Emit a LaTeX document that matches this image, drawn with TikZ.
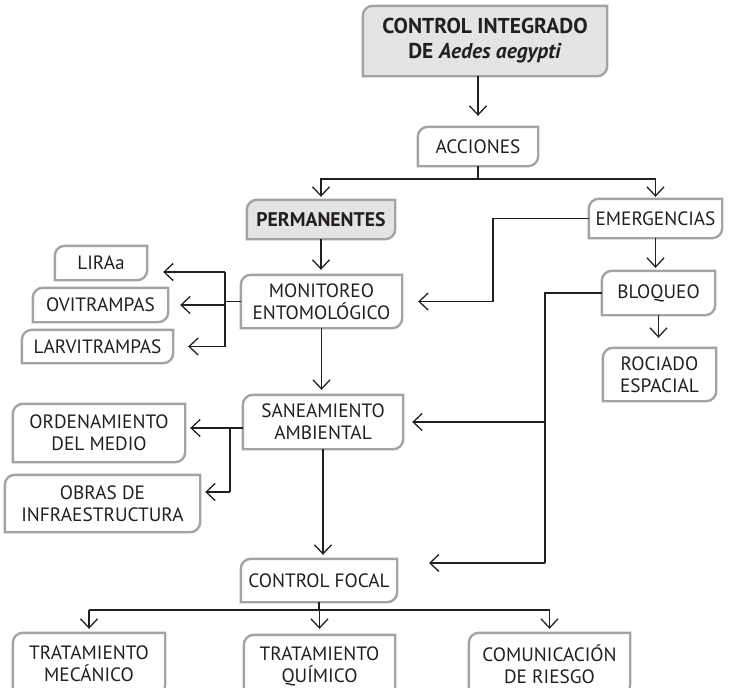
\documentclass[tikz,border=0pt]{standalone}
\usepackage{fontspec}
\setmainfont{PT Sans}
\usetikzlibrary{arrows.meta,positioning,calc,backgrounds}

\definecolor{framegray}{HTML}{A3A3A3}
\definecolor{headfill}{HTML}{E4E4E4}
\definecolor{inkgray}{HTML}{231F20}

\tikzset{
  box/.style={inner sep=0pt, align=center, text=inkgray,
    font=\fontsize{19.3}{22}\selectfont},
  headbox/.style={box, font=\fontsize{19.7}{22}\selectfont\bfseries},
  titlebox/.style={box, font=\fontsize{21.5}{25}\selectfont\bfseries},
  conn/.style={draw=inkgray, line width=1.3pt},
  arr/.style={conn, -{Straight Barb[length=9pt,width=17pt]}, shorten >=#1},
  arr/.default=5pt,
  leafline/.style={draw=framegray, line width=2.4pt, fill=#1},
  leafline/.default=white,
}

%% frame with rounded top-left and bottom-right corners
\newcommand\leafframe[2][white]{%
  \draw[leafline=#1] (#2.north east) -- ([xshift=10pt]#2.north west)
    arc[start angle=90, end angle=180, radius=10pt]
    -- (#2.south west) -- ([xshift=-10pt]#2.south east)
    arc[start angle=270, end angle=360, radius=10pt] -- cycle;}

\begin{document}
\begin{tikzpicture}[x=1pt, y=1pt]
  \useasboundingbox (0,0) rectangle (729,-688);

  %% Head and first level
  \node[titlebox, minimum width=244pt, minimum height=70pt] (top) at (485,-41)
    {CONTROL INTEGRADO\\DE \textit{Aedes aegypti}};
  \node[box, minimum width=120pt, minimum height=39pt] (acc) at (478,-146.5) {ACCIONES};
  \node[headbox, minimum width=148pt, minimum height=39pt] (perm) at (321,-219.5) {PERMANENTES};
  \node[box, minimum width=133pt, minimum height=39pt] (emer) at (655.5,-218.5) {EMERGENCIAS};

  %% Permanent actions
  \node[box, minimum width=161pt, minimum height=53pt] (mon) at (321.5,-301.5) {MONITOREO\\ENTOMOLÓGICO};
  \node[box, minimum width=92pt, minimum height=34pt] (lira) at (101,-263) {LIRAa};
  \node[box, minimum width=135pt, minimum height=34pt] (ovi) at (100.5,-305) {OVITRAMPAS};
  \node[box, minimum width=151pt, minimum height=33pt] (larv) at (97.5,-346.5) {LARVITRAMPAS};
  \node[box, minimum width=160pt, minimum height=54pt] (san) at (323,-422) {SANEAMIENTO\\AMBIENTAL};
  \node[box, minimum width=172pt, minimum height=58pt] (ord) at (99,-433) {ORDENAMIENTO\\DEL MEDIO};
  \node[box, minimum width=195pt, minimum height=57pt] (obras) at (102.5,-503.5) {OBRAS DE\\INFRAESTRUCTURA};
  \node[box, minimum width=156pt, minimum height=43pt] (cf) at (319,-580.5) {CONTROL FOCAL};
  \node[box, minimum width=152pt, minimum height=62pt] (mec) at (89,-664) {TRATAMIENTO\\MECÁNICO};
  \node[box, minimum width=151pt, minimum height=62pt] (qui) at (319.5,-666) {TRATAMIENTO\\QUÍMICO};
  \node[box, minimum width=161pt, minimum height=62pt] (com) at (549.5,-664) {COMUNICACIÓN\\DE RIESGO};

  %% Emergency actions
  \node[box, minimum width=113pt, minimum height=44pt] (bloq) at (658.5,-293) {BLOQUEO};
  \node[box, minimum width=113pt, minimum height=53pt] (roc) at (659.5,-374.5) {ROCIADO\\ESPACIAL};

  %% Frames
  \begin{scope}[on background layer]
    \leafframe[headfill]{top}
    \leafframe[headfill]{perm}
    \foreach \n in {acc,emer,mon,lira,ovi,larv,san,ord,obras,cf,mec,qui,com,bloq,roc}
      {\leafframe{\n}}
  \end{scope}

  %% Junction points
  \coordinate (hb) at (0,-179);
  \coordinate (e1) at (493,-219);
  \coordinate (ms) at (225,0);
  \coordinate (liratip) at ([yshift=-9pt]lira.east);
  \coordinate (bs) at (545,0);
  \coordinate (cftip) at (429,-563);
  \coordinate (ss) at (230,-428);
  \coordinate (ss2) at (230,-492);
  \coordinate (hc) at (0,-610);

  %% Head -> acciones -> two branches
  \draw[arr=11pt] (top.south -| acc) -- (acc.north);
  \draw[conn] (acc.south) -- (acc |- hb);
  \draw[arr=3pt] (acc |- hb) -| (perm.north);
  \draw[arr=2pt] (acc |- hb) -| (emer.north);

  %% Permanentes chain
  \draw[arr=5pt] (perm.south) -- (perm.south |- mon.north);
  \draw[arr=5pt] (mon.south) -- (mon.south |- san.north);
  \draw[arr=4pt] (san.south) -- (san.south |- cf.north);

  %% Monitoreo -> traps
  \draw[conn] (mon.west) -- (mon.west -| ms);
  \draw[conn] (liratip -| ms) -- (larv.east -| ms);
  \draw[arr=16pt] (liratip -| ms) -- (liratip);
  \draw[arr=12pt] (ovi.east -| ms) -- (ovi.east);
  \draw[arr=15pt] (larv.east -| ms) -- (larv.east);

  %% Saneamiento -> ordenamiento, obras
  \draw[conn] (ss -| san.west) -- (ss) -- (ss2);
  \draw[arr=5pt] (ss) -- (ss -| ord.east);
  \draw[arr=5pt] (ss2) -- (ss2 -| obras.east);

  %% Emergencias
  \draw[arr=16pt] (emer.west) -- (emer.west -| e1) |- (mon.east);
  \draw[arr=3pt] (emer.south) -- (emer.south |- bloq.north);
  \draw[arr=10pt] (bloq.south) -- (bloq.south |- roc.north);
  \draw[conn] (bloq.west) -- (bloq.west -| bs) -- (bs |- cftip);
  \draw[arr=0pt] (bs |- cftip) -- (cftip);
  \draw[arr=9pt] (san.east -| bs) -- (san.east);

  %% Control focal -> three treatments
  \draw[conn] (cf.south) -- (cf.south |- hc);
  \draw[conn] (mec.north |- hc) -- (com.north |- hc);
  \draw[arr=4pt] (mec.north |- hc) -- (mec.north);
  \draw[arr=6pt] (qui.north |- hc) -- (qui.north);
  \draw[arr=4pt] (com.north |- hc) -- (com.north);
\end{tikzpicture}
\end{document}
